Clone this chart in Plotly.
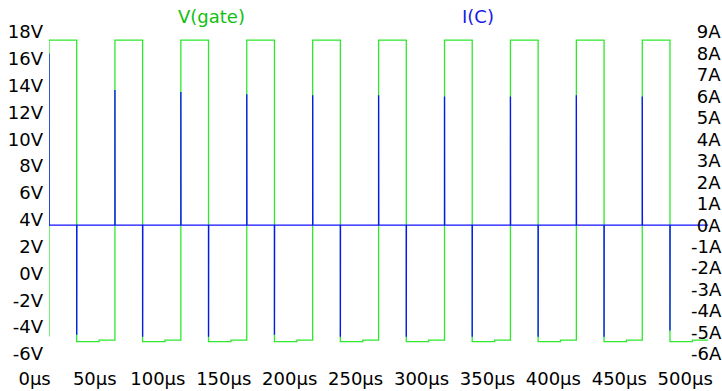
import plotly.graph_objects as go

# ---- data (times in µs) ----
rise_us = [0, 50, 100, 150, 200, 250, 300, 350, 400, 450]
fall_us = [21, 71, 121, 171, 221, 271, 321, 371, 421, 471]
step_us = [38, 88, 138, 188, 238, 288, 338, 388, 438, 488]
v_high = [17.4, 17.4, 17.4, 17.4, 17.4, 17.4, 17.4, 17.4, 17.4, 17.4]
v_low_early = [-5.08, -5.08, -5.08, -5.08, -5.08, -5.08, -5.08, -5.08, -5.08, -5.08]
v_low_late = [-4.96, -4.96, -4.96, -4.96, -4.96, -4.96, -4.96, -4.96, -4.96, -4.96]
v_start = -4.7
t_end = 500

i_on_peak = [8.0, 6.3, 6.2, 6.1, 6.05, 6.05, 6.0, 6.0, 6.05, 6.0]
i_off_peak = [-5.1, -5.2, -5.2, -5.1, -5.2, -5.2, -5.2, -5.2, -5.2, -4.9]

x_tickvals = [0, 50, 100, 150, 200, 250, 300, 350, 400, 450, 500]
x_ticktext = ["\u00a0\u00a0\u00a00µs", "\u00a050µs", "100µs", "150µs", "200µs", "250µs",
              "300µs", "350µs", "400µs", "450µs", "500µs"]
yl_tickvals = [18, 16, 14, 12, 10, 8, 6, 4, 2, 0, -2, -4, -6]
yl_ticktext = ["18V", "16V", "14V", "12V", "10V", "8V", "6V", "4V", "2V", "0V", "-2V", "-4V", "-6V"]
yr_tickvals = [9, 8, 7, 6, 5, 4, 3, 2, 1, 0, -1, -2, -3, -4, -5, -6]
yr_ticktext = ["\u00a09A", "\u00a08A", "\u00a07A", "\u00a06A", "\u00a05A", "\u00a04A",
               "\u00a03A", "\u00a02A", "\u00a01A", "\u00a00A",
               "-1A", "-2A", "-3A", "-4A", "-5A", "-6A"]

# ---- build gate waveform from edges ----
gate_t = [0]
gate_v = [v_start]
for r, f, s, hi, lo1, lo2 in zip(rise_us, fall_us, step_us, v_high, v_low_early, v_low_late):
    gate_t += [r, r, f, f, s, s]
    gate_v += [gate_v[-1], hi, hi, lo1, lo1, lo2]
gate_t.append(t_end)
gate_v.append(gate_v[-1])

# ---- build collector current (spikes at switching edges) ----
ic_t = [0]
ic_v = [0]
for r, f, pon, poff in zip(rise_us, fall_us, i_on_peak, i_off_peak):
    ic_t += [r, r, r + 0.1, f, f, f + 0.1]
    ic_v += [0, pon, 0, 0, poff, 0]
ic_t.append(t_end)
ic_v.append(0)

FONT = "DejaVu Sans"

fig = go.Figure()
fig.add_trace(go.Scatter(x=gate_t, y=gate_v, mode="lines", name="V(gate)",
                         line=dict(color="#2ee82e", width=1.3), yaxis="y"))
fig.add_trace(go.Scatter(x=ic_t, y=ic_v, mode="lines", name="I(C)",
                         line=dict(color="#1010ff", width=1.3), yaxis="y2"))

W, H = 722, 391
L, R = 49, 0
TOP_PX, BOT_PX = 31.8, 354.0    # pixel rows of 18V / -6V
PAD = 11                         # extra room above/below the tick range
T = TOP_PX - PAD
B = H - BOT_PX - PAD
vpp = (BOT_PX - TOP_PX) / 24.0   # px per volt
app = (BOT_PX - TOP_PX) / 15.0   # px per amp
x_max = 500 * (W - R - L) / (708.2 - L)
plot_h = H - T - B
RIGHT_AXIS_PX = 687

fig.update_layout(
    template="none",
    width=W, height=H,
    margin=dict(l=L, r=R, t=T, b=B, pad=0, autoexpand=False),
    paper_bgcolor="white", plot_bgcolor="white",
    showlegend=False,
    font=dict(family=FONT, size=18, color="black"),
    xaxis=dict(range=[0, x_max], tickvals=x_tickvals, ticktext=x_ticktext,
               showgrid=False, zeroline=False, showline=False, ticks="",
               automargin=False, ticklabeloverflow="allow",
               ticklabelshift=-23, ticklabelstandoff=1,
               tickfont=dict(family=FONT, size=18, color="black")),
    yaxis=dict(range=[-6 - PAD / vpp, 18 + PAD / vpp], tickvals=yl_tickvals, ticktext=yl_ticktext,
               showgrid=False, zeroline=False, showline=False, ticks="",
               automargin=False, ticklabelstandoff=5,
               tickfont=dict(family=FONT, size=18, color="black")),
    yaxis2=dict(range=[-6 - PAD / app, 9 + PAD / app], tickvals=yr_tickvals, ticktext=yr_ticktext,
                overlaying="y", side="right", anchor="free",
                position=(RIGHT_AXIS_PX - L) / (W - R - L),
                showgrid=False, zeroline=False, showline=False, ticks="",
                automargin=False, ticklabeloverflow="allow", ticklabelstandoff=3,
                tickfont=dict(family=FONT, size=18, color="black")),
    annotations=[
        dict(text="V(gate)", x=(211 - L) / (W - R - L), y=1 - (16 - T) / plot_h,
             xref="paper", yref="paper", xanchor="center", yanchor="middle", showarrow=False,
             font=dict(family=FONT, size=18, color="#10c010")),
        dict(text="I(C)", x=(478 - L) / (W - R - L), y=1 - (16 - T) / plot_h,
             xref="paper", yref="paper", xanchor="center", yanchor="middle", showarrow=False,
             font=dict(family=FONT, size=18, color="#1a1ae8")),
    ],
)

fig.write_html("out.html", config={"displayModeBar": False},
               post_script="document.body.style.margin='0px';document.body.style.overflow='hidden';")
